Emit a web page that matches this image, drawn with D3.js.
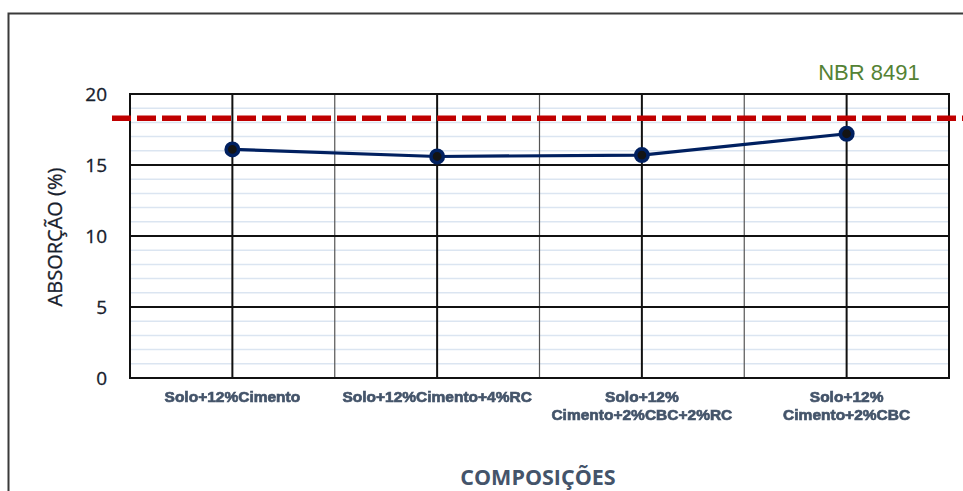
<!DOCTYPE html>
<html>
<head>
<meta charset="utf-8">
<script src="https://cdn.jsdelivr.net/npm/d3@7"></script>
<style>
  html, body { margin: 0; padding: 0; background: #fff; }
  svg { display: block; }
</style>
</head>
<body>
<svg id="chart" width="963" height="491"></svg>
<script>
// Categories (multi-line labels split by "\n")
const categories = [
  "Solo+12%Cimento",
  "Solo+12%Cimento+4%RC",
  "Solo+12%\nCimento+2%CBC+2%RC",
  "Solo+12%\nCimento+2%CBC"
];
// Water absorption (%)
const absorcao = [16.1, 15.6, 15.7, 17.2];
// Reference limit line
const limiteNBR = 18.3;
const limiteLabel = "NBR 8491";
// Y axis ticks
const yTicks = [0, 5, 10, 15, 20];
const yMinor = [1, 2, 3, 4, 6, 7, 8, 9, 11, 12, 13, 14, 16, 17, 18, 19];

const svg = d3.select("#chart");
const W = 963, H = 491;
const plot = { left: 130, right: 949, top: 94, bottom: 378 };

const x = d3.scaleBand().domain(categories).range([plot.left, plot.right]).padding(0);
const y = d3.scaleLinear().domain([0, 20]).range([plot.bottom, plot.top]);

const defs = svg.append("defs");
defs.append("filter").attr("id", "soft")
  .append("feGaussianBlur").attr("stdDeviation", 0.5);

// Outer chart frame
svg.append("path")
  .attr("d", `M8.5,${H} V13.5 H${W}`)
  .attr("fill", "none").attr("stroke", "#3a3a3a").attr("stroke-width", 2);

// Minor horizontal gridlines
svg.append("g").selectAll("line").data(yMinor).join("line")
  .attr("x1", plot.left).attr("x2", plot.right)
  .attr("y1", d => y(d)).attr("y2", d => y(d))
  .attr("stroke", "#dbe5f1").attr("stroke-width", 1.5);

// Vertical gridlines between categories
svg.append("g").selectAll("line").data(categories.slice(1)).join("line")
  .attr("x1", d => x(d)).attr("x2", d => x(d))
  .attr("y1", plot.top).attr("y2", plot.bottom)
  .attr("stroke", "#555").attr("stroke-width", 1.2);

// Vertical gridlines at category centres
svg.append("g").selectAll("line").data(categories).join("line")
  .attr("x1", d => x(d) + x.bandwidth() / 2).attr("x2", d => x(d) + x.bandwidth() / 2)
  .attr("y1", plot.top).attr("y2", plot.bottom)
  .attr("stroke", "#111").attr("stroke-width", 2);

// Major horizontal gridlines
svg.append("g").selectAll("line").data(yTicks).join("line")
  .attr("x1", plot.left).attr("x2", plot.right)
  .attr("y1", d => y(d)).attr("y2", d => y(d))
  .attr("stroke", "#111").attr("stroke-width", 2);

// Plot borders
svg.append("line").attr("x1", plot.left).attr("x2", plot.left)
  .attr("y1", plot.top - 1).attr("y2", plot.bottom + 1)
  .attr("stroke", "#111").attr("stroke-width", 2);
svg.append("line").attr("x1", plot.right).attr("x2", plot.right)
  .attr("y1", plot.top - 1).attr("y2", plot.bottom + 1)
  .attr("stroke", "#111").attr("stroke-width", 2);

// Y axis tick labels
const yAxis = d3.axisLeft(y).tickValues(yTicks).tickSize(0).tickPadding(0);
const gy = svg.append("g").attr("transform", `translate(107,0)`).call(yAxis);
gy.select(".domain").remove();
gy.selectAll("text")
  .attr("font-family", "'Open Sans', sans-serif")
  .attr("font-size", 19)
  .attr("font-weight", 500)
  .attr("fill", "#17202c")
  .attr("stroke", "#17202c").attr("stroke-width", 0.3)
  .attr("dy", "0.36em");

// Y axis title
svg.append("text")
  .attr("transform", `translate(62,${(plot.top + plot.bottom) / 2 + 1}) rotate(-90)`)
  .attr("text-anchor", "middle")
  .attr("font-family", "'Open Sans', sans-serif")
  .attr("font-size", 20)
  .attr("font-weight", 500)
  .attr("fill", "#17202c")
  .attr("stroke", "#17202c").attr("stroke-width", 0.3)
  .text("ABSORÇÃO (%)");

// X category labels
const xl = svg.append("g").attr("filter", "url(#soft)");
categories.forEach(c => {
  const lines = c.split("\n");
  const t = xl.append("text")
    .attr("x", x(c) + x.bandwidth() / 2)
    .attr("y", 402)
    .attr("text-anchor", "middle")
    .attr("font-family", "'Liberation Sans', Arial, sans-serif")
    .attr("font-weight", "bold")
    .attr("font-size", 15.5)
    .attr("fill", "#44546a")
    .attr("stroke", "#44546a").attr("stroke-width", 0.7);
  lines.forEach((ln, i) => {
    t.append("tspan").attr("x", x(c) + x.bandwidth() / 2)
      .attr("dy", i === 0 ? 0 : 18).text(ln);
  });
});

// X axis title
svg.append("text")
  .attr("x", 538).attr("y", 485)
  .attr("text-anchor", "middle")
  .attr("font-family", "'Open Sans', sans-serif")
  .attr("font-weight", 700)
  .attr("font-size", 21.5)
  .attr("fill", "#44546a")
  .text("COMPOSIÇÕES");

// Reference limit line
svg.append("line")
  .attr("x1", 112).attr("x2", W)
  .attr("y1", y(limiteNBR)).attr("y2", y(limiteNBR))
  .attr("stroke", "#c00000").attr("stroke-width", 5.5)
  .attr("stroke-dasharray", "19,6");

svg.append("text")
  .attr("x", 869).attr("y", 80)
  .attr("text-anchor", "middle")
  .attr("font-family", "'Liberation Sans', Arial, sans-serif")
  .attr("font-size", 22)
  .attr("fill", "#548235")
  .text(limiteLabel);

// Data line
const pts = categories.map((c, i) => [x(c) + x.bandwidth() / 2, y(absorcao[i])]);
svg.append("path")
  .attr("d", d3.line()(pts))
  .attr("fill", "none").attr("stroke", "#002060").attr("stroke-width", 3.2);

svg.append("g").selectAll("circle").data(pts).join("circle")
  .attr("cx", d => d[0]).attr("cy", d => d[1])
  .attr("r", 6.2)
  .attr("fill", "#141414")
  .attr("stroke", "#002060").attr("stroke-width", 3.6);
</script>
</body>
</html>
